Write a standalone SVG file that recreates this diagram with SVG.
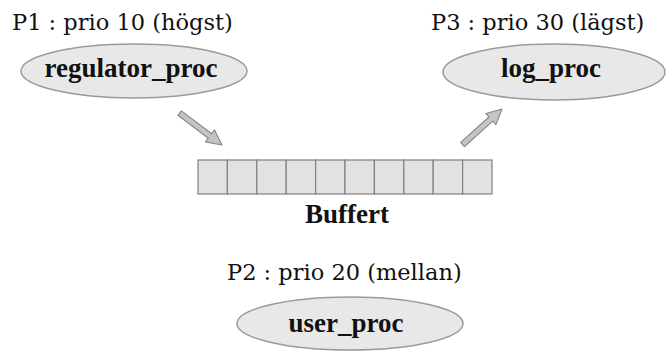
<svg xmlns="http://www.w3.org/2000/svg" width="668" height="351" viewBox="0 0 668 351">
  <style>
    .prio { font-family: "DejaVu Serif", serif; font-size: 22.5px; fill: #111; }
    .name { font-family: "Liberation Serif", serif; font-weight: bold; font-size: 27px; fill: #111; text-anchor: middle; }
    .proc { fill: #e8e8e8; stroke: #9a9a9a; stroke-width: 1.5; }
    .cell { fill: #e2e2e2; stroke: #808080; stroke-width: 1.2; }
    .arrow { fill: #c4c4c4; stroke: #8a8a8a; stroke-width: 1.2; stroke-linejoin: round; }
  </style>
  <defs>
    <!-- block arrow pointing along +x, tip at origin -->
    <path id="blockArrow" d="M -53 -2.8 L -15 -2.8 L -15 -7.5 L 0 0 L -15 7.5 L -15 2.8 L -53 2.8 Z"/>
  </defs>
  <rect width="668" height="351" fill="#fff"/>

  <g id="regulator_proc">
    <text class="prio" x="12" y="30">P1 : prio 10 (högst)</text>
    <ellipse class="proc" cx="134" cy="71" rx="113" ry="27"/>
    <text class="name" x="131" y="77">regulator_proc</text>
  </g>

  <g id="log_proc">
    <text class="prio" x="431" y="30">P3 : prio 30 (lägst)</text>
    <ellipse class="proc" cx="554" cy="72" rx="111" ry="28"/>
    <text class="name" x="551" y="77">log_proc</text>
  </g>

  <g id="buffert">
    <rect class="cell" x="198" y="160" width="29.4" height="34"/>
    <rect class="cell" x="227.4" y="160" width="29.4" height="34"/>
    <rect class="cell" x="256.8" y="160" width="29.4" height="34"/>
    <rect class="cell" x="286.2" y="160" width="29.4" height="34"/>
    <rect class="cell" x="315.6" y="160" width="29.4" height="34"/>
    <rect class="cell" x="345" y="160" width="29.4" height="34"/>
    <rect class="cell" x="374.4" y="160" width="29.4" height="34"/>
    <rect class="cell" x="403.8" y="160" width="29.4" height="34"/>
    <rect class="cell" x="433.2" y="160" width="29.4" height="34"/>
    <rect class="cell" x="462.6" y="160" width="29.4" height="34"/>
    <text class="name" x="347" y="223">Buffert</text>
  </g>

  <g id="user_proc">
    <text class="prio" x="227" y="280">P2 : prio 20 (mellan)</text>
    <ellipse class="proc" cx="350" cy="323.5" rx="113" ry="26.5"/>
    <text class="name" x="346" y="332">user_proc</text>
  </g>

  <g id="connectors">
    <use href="#blockArrow" class="arrow" transform="translate(222,145) rotate(37)"/>
    <use href="#blockArrow" class="arrow" transform="translate(502,109) rotate(-42)"/>
  </g>
</svg>
